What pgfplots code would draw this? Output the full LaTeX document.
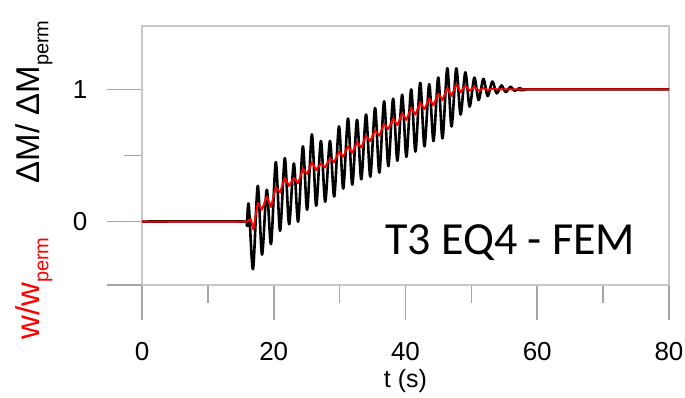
\documentclass[border=0pt]{standalone}
\usepackage{pgfplots}
\pgfplotsset{compat=1.18}
\usepackage{fontspec}
\setmainfont{Liberation Sans}
\newfontfamily\calibri{Carlito}
\newcommand{\sub}[1]{\raisebox{-0.28em}{\fontsize{10}{10}\selectfont #1}}
\definecolor{framegray}{RGB}{200,200,200}
\definecolor{tickgray}{RGB}{165,165,165}
\begin{document}
\begin{tikzpicture}
\begin{axis}[
  name=ax,
  scale only axis,
  width=263.5pt, height=129.5pt,
  xmin=0, xmax=80, ymin=-0.48, ymax=1.48,
  axis line style={draw=framegray, line width=1pt},
  tick style={draw=tickgray, line width=0.8pt},
  tick align=outside,
  xtick={0,20,40,60,80},
  minor xtick={10,30,50,70},
  ytick={0,1},
  minor ytick={0.5},
  extra y ticks={-0.48},
  extra y tick labels={},
  extra y tick style={tick style={draw=tickgray, line width=0.8pt}},
  major tick length=17.5pt,
  minor tick length=9pt,
  xtick pos=bottom, ytick pos=left,
  /pgf/number format/assume math mode=true,
  tick label style={font=\fontsize{13}{15}\selectfont},
  xticklabel style={anchor=center, yshift=-16pt},
  yticklabel style={anchor=center, xshift=-13.5pt},
  xlabel={t (s)},
  xlabel style={font=\fontsize{12.5}{14}\selectfont, at={(axis description cs:0.5,-0.37)}, anchor=center},
  ylabel={{\color{red}w/w\sub{perm}}\hspace{27pt}ΔM/ ΔM\sub{perm}},
  ylabel style={font=\fontsize{16.5}{18}\selectfont, at={(axis description cs:-0.205,0.405)}, anchor=center, rotate=0},
  clip=true,
]
\addplot[black, line width=1.3pt, smooth, tension=0.5, line join=round] coordinates {
(0,0) (15.6,0) (15.9,-0.03)
(16.20,0.13) (16.85,-0.36)
(17.57,0.27) (18.22,-0.25)
(18.94,0.24) (19.59,-0.17)
(20.31,0.45) (20.96,-0.07)
(21.68,0.48) (22.33,-0.02)
(23.05,0.44) (23.70,0.00)
(24.42,0.57) (25.07,0.09)
(25.79,0.66) (26.44,0.12)
(27.16,0.61) (27.81,0.15)
(28.53,0.61) (29.18,0.19)
(29.90,0.72) (30.55,0.25)
(31.27,0.78) (31.92,0.28)
(32.64,0.77) (33.29,0.32)
(34.01,0.81) (34.66,0.34)
(35.38,0.86) (36.03,0.37)
(36.75,0.91) (37.40,0.42)
(38.12,0.93) (38.77,0.46)
(39.49,0.96) (40.14,0.49)
(40.86,1.00) (41.51,0.53)
(42.23,1.05) (42.88,0.57)
(43.60,1.04) (44.25,0.61)
(44.97,1.09) (45.62,0.63)
(46.34,1.16) (46.99,0.72)
(47.71,1.16) (48.36,0.81)
(49.08,1.13) (49.73,0.87)
(50.45,1.09) (51.10,0.92)
(51.82,1.08) (52.47,0.95)
(53.19,1.06) (53.84,0.97)
(54.56,1.03) (55.21,0.98)
(55.93,1.02) (56.58,0.99)
(57.30,1.01) (57.95,0.995)
(58.6,1.0) (80,1.0)
};
\addplot[red, line width=1.0pt, line join=round] coordinates {
(0,0) (16.0,0) (16.5,0.02) (16.9,-0.06)
(17.57,0.14) (18.22,0.09)
(18.94,0.19) (19.59,0.11)
(20.31,0.26) (20.96,0.22)
(21.68,0.33) (22.33,0.27)
(23.05,0.33) (23.70,0.29)
(24.42,0.40) (25.07,0.36)
(25.79,0.45) (26.44,0.39)
(27.16,0.44) (27.81,0.41)
(28.53,0.48) (29.18,0.45)
(29.90,0.53) (30.55,0.49)
(31.27,0.57) (31.92,0.52)
(32.64,0.60) (33.29,0.56)
(34.01,0.65) (34.66,0.61)
(35.38,0.69) (36.03,0.65)
(36.75,0.74) (37.40,0.70)
(38.12,0.78) (38.77,0.73)
(39.49,0.82) (40.14,0.77)
(40.86,0.86) (41.51,0.81)
(42.23,0.90) (42.88,0.85)
(43.60,0.93) (44.25,0.88)
(44.97,0.97) (45.62,0.92)
(46.34,1.01) (46.99,0.95)
(47.71,1.04) (48.36,0.98)
(49.08,1.03) (49.73,0.99)
(50.45,1.02) (51.10,0.99)
(51.82,1.01) (52.47,0.995)
(53.19,1.005) (54,1.0) (80,1.0)
};
\node[anchor=base, font=\calibri\fontsize{23}{26}\selectfont, inner sep=0pt] at (axis description cs:0.699,0.116) {T3 EQ4 - FEM};
\end{axis}
\pgfresetboundingbox
\path[use as bounding box] ([shift={(-71pt,-56pt)}]ax.south west) rectangle ([shift={(8pt,13pt)}]ax.north east);
\end{tikzpicture}
\end{document}
